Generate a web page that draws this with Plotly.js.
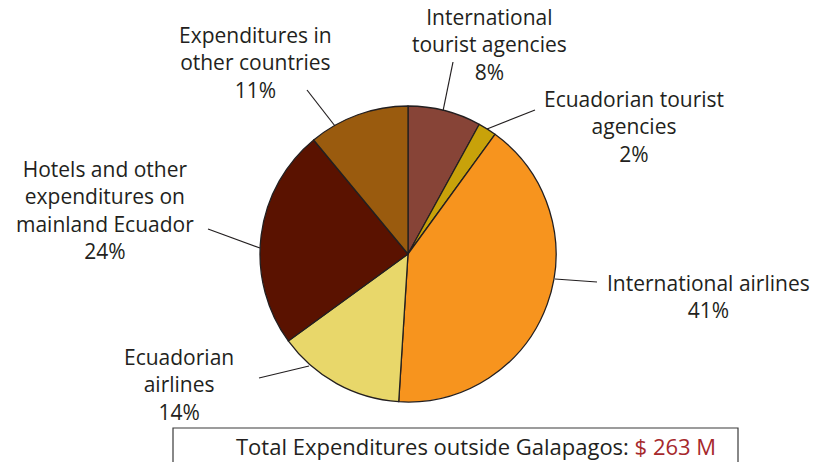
<!DOCTYPE html>
<html>
<head>
<meta charset="utf-8">
<script src="https://cdn.plot.ly/plotly-3.0.1.min.js"></script>
<style>html,body{margin:0;padding:0;background:#fff;}#chart{width:817px;height:462px;}</style>
</head>
<body>
<div id="chart"></div>
<script>
// ---- data ----
const categories = [
  "International tourist agencies",
  "Ecuadorian tourist agencies",
  "International airlines",
  "Ecuadorian airlines",
  "Hotels and other expenditures on mainland Ecuador",
  "Expenditures in other countries"
];
const shares = [8, 2, 41, 14, 24, 11];
const colors = ["#874437", "#C8A20A", "#F7941E", "#E8D76A", "#5A1200", "#9A5B0E"];
const labelLines = [
  ["International", "tourist agencies"],
  ["Ecuadorian tourist", "agencies"],
  ["International airlines"],
  ["Ecuadorian", "airlines"],
  ["Hotels and other", "expenditures on", "mainland Ecuador"],
  ["Expenditures in", "other countries"]
];
const totalLabel = "Total Expenditures outside Galapagos:";
const totalValue = "$ 263 M";

// ---- layout helpers (pixel positions of labels / leader lines) ----
const W = 817, H = 462;
const px = x => x / W;
const py = y => 1 - y / H;
const labelCenters = [
  [489, 45],
  [634, 126.5],
  [708, 296.5],
  [179, 384],
  [105, 209.5],
  [256, 63]
];
const leaders = [
  [453, 62, 443, 111],
  [535, 110, 487, 129],
  [597, 282, 555, 279],
  [259, 378, 309, 366],
  [208, 229, 260, 248],
  [307, 90, 335, 126]
];
const FONT = "Open Sans, Noto Sans, sans-serif";
const TXT = "#231F20";

const annotations = labelLines.map((lines, i) => ({
  xref: "paper", yref: "paper",
  x: px(labelCenters[i][0]), y: py(labelCenters[i][1]),
  xanchor: "center", yanchor: "middle", align: "center", showarrow: false,
  text: lines.concat([shares[i] + "%"]).join("<br>"),
  font: {family: FONT, size: 21, color: TXT}
}));
annotations.push({
  xref: "paper", yref: "paper", x: px(476), y: py(446),
  xanchor: "center", yanchor: "middle", showarrow: false,
  text: totalLabel + " <span style='color:#A6282C'>" + totalValue + "</span>",
  font: {family: FONT, size: 22, color: TXT}
});

const shapes = leaders.map(l => ({
  type: "line", xref: "paper", yref: "paper",
  x0: px(l[0]), y0: py(l[1]), x1: px(l[2]), y1: py(l[3]),
  line: {color: TXT, width: 1.2}
}));
shapes.push({
  type: "rect", xref: "paper", yref: "paper",
  x0: px(173), x1: px(738), y0: py(475), y1: py(428),
  line: {color: "#3a3a3a", width: 1.2}, fillcolor: "rgba(0,0,0,0)"
});

const trace = {
  type: "pie",
  labels: categories,
  values: shares,
  sort: false,
  direction: "clockwise",
  rotation: 0,
  textinfo: "none",
  hoverinfo: "label+percent",
  marker: {colors: colors, line: {color: TXT, width: 1.3}},
  domain: {x: [px(260), px(556)], y: [py(402), py(106)]},
  showlegend: false
};

Plotly.newPlot("chart", [trace], {
  width: W, height: H,
  margin: {l: 0, r: 0, t: 0, b: 0},
  paper_bgcolor: "#ffffff",
  showlegend: false,
  annotations: annotations,
  shapes: shapes
}, {displayModeBar: false, staticPlot: true});
</script>
</body>
</html>
